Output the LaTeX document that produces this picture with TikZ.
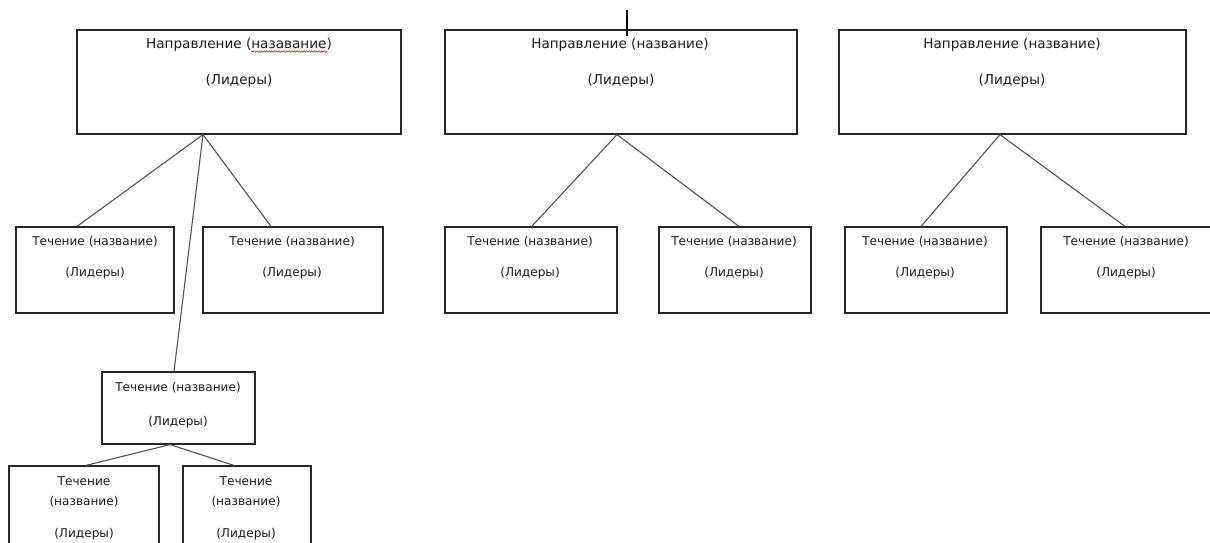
\documentclass[tikz,border=0pt]{standalone}
\usepackage{fontspec}
\setmainfont{DejaVu Sans}
\usetikzlibrary{decorations.pathmorphing}
\definecolor{txt}{HTML}{1A1A1A}
\tikzset{
  box/.style={draw=black!85, line width=1.2pt, rectangle, inner sep=0pt, fill=none},
  link/.style={draw=black!68, line width=1.1pt},
  bigtxt/.style={inner sep=0pt, text=txt, font=\fontsize{13.6}{16}\selectfont, text height=0.76em, text depth=0.13em, anchor=center},
  smalltxt/.style={inner sep=0pt, text=txt, font=\fontsize{12.1}{14}\selectfont, text height=0.76em, text depth=0.13em, anchor=center},
}
\begin{document}
\begin{tikzpicture}[x=1pt, y=-1pt]
\useasboundingbox (0,0) rectangle (1210,543);
\clip (0,0) rectangle (1210,543);

% top boxes
\node[box, minimum width=324pt, minimum height=104pt] (A) at (239,82) {};
\node[box, minimum width=352pt, minimum height=104pt] (B) at (621,82) {};
\node[box, minimum width=347pt, minimum height=104pt] (C) at (1012.5,82) {};

\node[bigtxt] (At1) at (239,45.5) {Направление (назавание)};
\node[bigtxt] (At2) at (239,81.5) {(Лидеры)};
\node[bigtxt] (Bt1) at (620,45.5) {Направление (название)};
\node[bigtxt] (Bt2) at (621,81.5) {(Лидеры)};
\node[bigtxt] (Ct1) at (1012,45.5) {Направление (название)};
\node[bigtxt] (Ct2) at (1012,81.5) {(Лидеры)};

% second row
\node[box, minimum width=158pt, minimum height=86pt] (A1) at (95,270) {};
\node[box, minimum width=180pt, minimum height=86pt] (A2) at (293,270) {};
\node[box, minimum width=172pt, minimum height=86pt] (B1) at (531,270) {};
\node[box, minimum width=152pt, minimum height=86pt] (B2) at (735,270) {};
\node[box, minimum width=162pt, minimum height=86pt] (C1) at (926,270) {};
\node[box, minimum width=170pt, minimum height=86pt] (C2) at (1126,270) {};

\node[smalltxt] (A1t1) at (95,242.5) {Течение (название)};
\node[smalltxt] (A1t2) at (95,273.5) {(Лидеры)};
\node[smalltxt] (A2t1) at (292,242.5) {Течение (название)};
\node[smalltxt] (A2t2) at (292,273.5) {(Лидеры)};
\node[smalltxt] (B1t1) at (530,242.5) {Течение (название)};
\node[smalltxt] (B1t2) at (530,273.5) {(Лидеры)};
\node[smalltxt] (B2t1) at (734,242.5) {Течение (название)};
\node[smalltxt] (B2t2) at (734,273.5) {(Лидеры)};
\node[smalltxt] (C1t1) at (925,242.5) {Течение (название)};
\node[smalltxt] (C1t2) at (925,273.5) {(Лидеры)};
\node[smalltxt] (C2t1) at (1126,242.5) {Течение (название)};
\node[smalltxt] (C2t2) at (1126,273.5) {(Лидеры)};

% third level
\node[box, minimum width=153pt, minimum height=72pt] (A3) at (178.5,408) {};
\node[smalltxt] (A3t1) at (178,388.5) {Течение (название)};
\node[smalltxt] (A3t2) at (178,422.5) {(Лидеры)};

% fourth level
\node[box, minimum width=150pt, minimum height=94pt] (A4) at (84,513) {};
\node[box, minimum width=128pt, minimum height=94pt] (A5) at (247,513) {};
\node[smalltxt] (A4t1) at (84,482.5) {Течение};
\node[smalltxt] (A4t2) at (84,502) {(название)};
\node[smalltxt] (A4t3) at (84,534) {(Лидеры)};
\node[smalltxt] (A5t1) at (246,482.5) {Течение};
\node[smalltxt] (A5t2) at (246,502) {(название)};
\node[smalltxt] (A5t3) at (246,534) {(Лидеры)};

% connectors
\draw[link] ([xshift=-36pt]A.south) -- ([xshift=-18pt]A1.north);
\draw[link] ([xshift=-36pt]A.south) -- ([xshift=-22pt]A2.north);
\draw[link] ([xshift=-36pt]A.south) -- ([xshift=-4.5pt]A3.north);
\draw[link] ([xshift=-8.5pt]A3.south) -- ([xshift=2pt]A4.north);
\draw[link] ([xshift=-8.5pt]A3.south) -- ([xshift=-13pt]A5.north);
\draw[link] ([xshift=-4pt]B.south) -- ([xshift=0.7pt]B1.north);
\draw[link] ([xshift=-4pt]B.south) -- ([xshift=4pt]B2.north);
\draw[link] ([xshift=-12.5pt]C.south) -- ([xshift=-5pt]C1.north);
\draw[link] ([xshift=-12.5pt]C.south) -- ([xshift=-1pt]C2.north);

% spell-check squiggle and text cursor
\draw[red!85!black, line width=0.5pt, decorate, decoration={snake, amplitude=0.7pt, segment length=2.5pt}] (251,51.5) -- (327,51.5);
\draw[black, line width=2pt] (626.5,10) -- (626.5,36.5);
\end{tikzpicture}
\end{document}
